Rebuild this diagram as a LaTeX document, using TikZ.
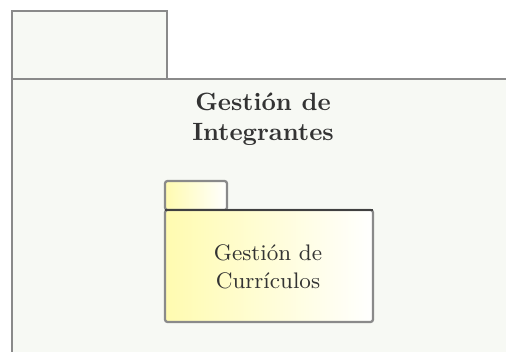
\documentclass[tikz,border=0pt]{standalone}
\usepackage{tikz}

\definecolor{pkgback}{HTML}{F7F9F4}
\definecolor{pkgline}{HTML}{8A8A8A}
\definecolor{pkgyellow}{HTML}{FFFBB0}

\begin{document}
\begin{tikzpicture}[x=0.4pt, y=-0.4pt,
  outerpkg/.style={draw=pkgline, line width=0.9pt, fill=pkgback},
  innerpkg/.style={draw=pkgline, line width=0.9pt, left color=pkgyellow, right color=white},
  pkgtitle/.style={align=center, font=\bfseries, text=black!80},
  pkgname/.style={align=center, font=\small, text=black!80}
]

\useasboundingbox (0,0) rectangle (506,352);
\clip (0,0) rectangle (506,352);
\fill[white] (0,0) rectangle (506,352);

% Outer package
\draw[outerpkg] (12,11) rectangle (167,79);
\draw[outerpkg] (12,79) rectangle (530,380);
\node[pkgtitle] (integrantes) at (263,119) {Gestión de\\Integrantes};

% Inner package
\draw[innerpkg, rounded corners=1pt] (165,181) rectangle (227,210);
\draw[innerpkg, rounded corners=1pt] (165,210) rectangle (373,322);
\draw[line width=0.9pt, black!75] (165,210) -- (373,210);
\node[pkgname] (curriculos) at (268,267) {Gestión de\\Currículos};

\end{tikzpicture}
\end{document}
